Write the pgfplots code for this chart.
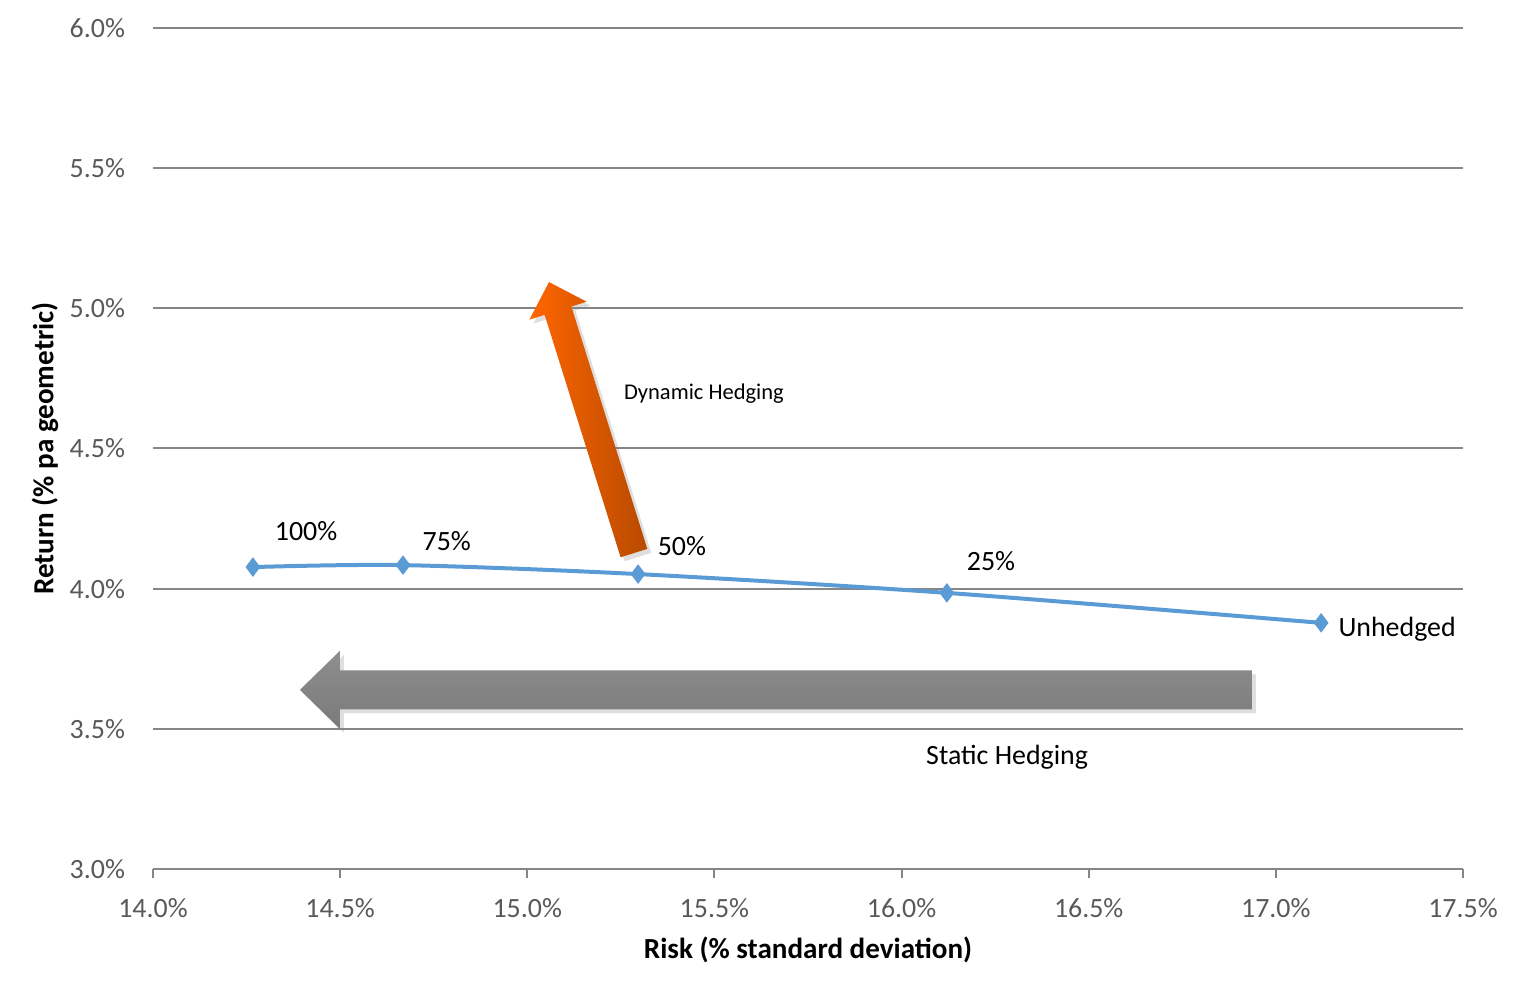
\documentclass[border=0pt]{standalone}
\usepackage{pgfplots}
\pgfplotsset{compat=1.18}
\usepackage{fontspec}
\setmainfont{Carlito}
\usetikzlibrary{shadows}
\definecolor{lineblue}{HTML}{5B9BD5}
\definecolor{gridgray}{HTML}{868686}
\definecolor{ticktext}{HTML}{595959}
\definecolor{orangetop}{HTML}{FF6600}
\definecolor{orangebot}{HTML}{B84A00}
\definecolor{graytop}{HTML}{8E8E8E}
\definecolor{graybot}{HTML}{7A7A7A}
\begin{document}
\begin{tikzpicture}
\begin{axis}[
  scale only axis, width=655bp, height=420.5bp,
  xmin=14, xmax=17.5, ymin=3, ymax=6,
  xtick={14,14.5,15,15.5,16,16.5,17,17.5},
  ytick={3,3.5,4,4.5,5,5.5,6},
  /pgf/number format/assume math mode=true,
  xticklabel={\pgfmathprintnumber[fixed,fixed zerofill,precision=1]{\tick}\%},
  yticklabel={\pgfmathprintnumber[fixed,fixed zerofill,precision=1]{\tick}\%},
  tick label style={font=\fontsize{14}{17}\selectfont, text=ticktext},
  x tick label style={yshift=-6.5bp},
  y tick label style={xshift=-6bp},
  axis lines*=left, separate axis lines,
  y axis line style={draw=none},
  x axis line style={draw=gridgray, line width=1bp, -},
  ytick style={draw=none},
  xtick style={draw=gridgray, line width=1bp},
  tick align=outside, major tick length=4.5bp,
  ymajorgrids, grid style={gridgray, line width=1bp},
  xlabel={\textbf{Risk (\% standard deviation)}},
  ylabel={\textbf{Return (\% pa geometric)}},
  label style={font=\fontsize{14.6}{17}\selectfont},
  x label style={at={(axis description cs:0.5,0)}, anchor=center, yshift=-40.5bp},
  y label style={at={(axis description cs:0,0.5)}, anchor=center, yshift=54bp},
  clip=false,
]
\addplot[lineblue, line width=2bp, smooth, mark=diamond*, mark size=4.5bp,
  mark options={fill=lineblue, draw=lineblue, line width=0.5bp}]
  coordinates {(14.267,4.077) (14.668,4.084) (15.296,4.052) (16.121,3.985) (17.121,3.878)};
\coordinate (otail) at (axis cs:15.285,4.127);
\coordinate (gtail) at (axis cs:16.936,3.639);
\node[font=\fontsize{14}{17}\selectfont] at (axis cs:14.409,4.206) {100\%};
\node[font=\fontsize{14}{17}\selectfont] at (axis cs:14.785,4.170) {75\%};
\node[font=\fontsize{14}{17}\selectfont] at (axis cs:15.413,4.152) {50\%};
\node[font=\fontsize{14}{17}\selectfont] at (axis cs:16.239,4.099) {25\%};
\node[font=\fontsize{14}{17}\selectfont] at (axis cs:17.324,3.856) {Unhedged};
\node[font=\fontsize{14}{17}\selectfont] at (axis cs:16.282,3.400) {Static Hedging};
\node[font=\fontsize{11.3}{13}\selectfont] at (axis cs:15.472,4.694) {Dynamic Hedging};
\end{axis}
\shade[left color=orangetop, right color=orangebot,
  drop shadow={opacity=0.25, shadow xshift=2bp, shadow yshift=-2bp},
  shift={(otail)}, rotate=107.4]
  (0bp,-7bp) -- (127bp,-7bp) -- (127bp,-15bp) -- (142bp,0bp) -- (127bp,15bp) -- (127bp,7bp) -- (0bp,7bp) -- cycle;
\shade[top color=graytop, bottom color=graybot,
  drop shadow={opacity=0.25, shadow xshift=2bp, shadow yshift=-2bp},
  shift={(gtail)}]
  (0bp,-9.75bp) -- (-456bp,-9.75bp) -- (-456bp,-19.5bp) -- (-476bp,0bp) -- (-456bp,19.5bp) -- (-456bp,9.75bp) -- (0bp,9.75bp) -- cycle;
\pgfresetboundingbox
\path ([xshift=-76.5bp,yshift=-61bp]current axis.south west) rectangle ([xshift=29.5bp,yshift=14bp]current axis.north east);
\end{tikzpicture}
\end{document}
